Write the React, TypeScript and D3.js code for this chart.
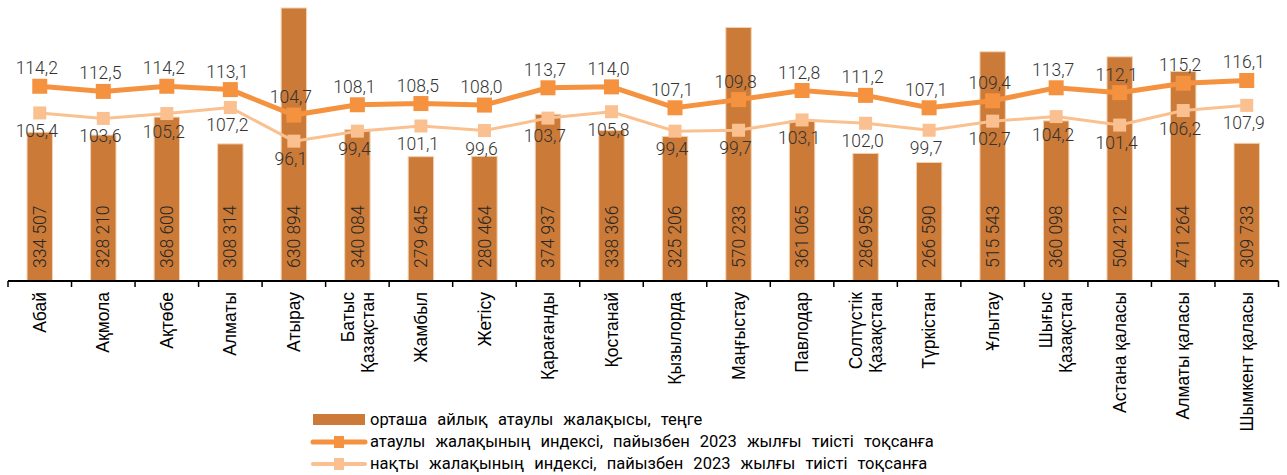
import * as d3 from 'd3';

const regions = [
  ['Абай'], ['Ақмола'], ['Ақтөбе'], ['Алматы'], ['Атырау'], ['Батыс', 'Қазақстан'],
  ['Жамбыл'], ['Жетісу'], ['Қарағанды'], ['Қостанай'], ['Қызылорда'], ['Маңғыстау'],
  ['Павлодар'], ['Солтүстік', 'Қазақстан'], ['Түркістан'], ['Ұлытау'], ['Шығыс', 'Қазақстан'],
  ['Астана қаласы'], ['Алматы қаласы'], ['Шымкент қаласы'],
];
const wages = [
  334507, 328210, 368600, 308314, 630894, 340084, 279645, 280464, 374937, 338366,
  325206, 570233, 361065, 286956, 266590, 515543, 360098, 504212, 471264, 309733,
];
const nominalIdx = [
  114.2, 112.5, 114.2, 113.1, 104.7, 108.1, 108.5, 108.0, 113.7, 114.0,
  107.1, 109.8, 112.8, 111.2, 107.1, 109.4, 113.7, 112.1, 115.2, 116.1,
];
const realIdx = [
  105.4, 103.6, 105.2, 107.2, 96.1, 99.4, 101.1, 99.6, 103.7, 105.8,
  99.4, 99.7, 103.1, 102.0, 99.7, 102.7, 104.2, 101.4, 106.2, 107.9,
];
const legendLabels = [
  'орташа айлық атаулы жалақысы, теңге',
  'атаулы жалақының индексі, пайызбен 2023 жылғы тиісті тоқсанға',
  'нақты жалақының индексі, пайызбен 2023 жылғы тиісті тоқсанға',
];

const W = 1287;
const H = 475;
const barColor = '#cb7a37';
const nomColor = '#f5923f';
const realColor = '#fac08f';
const txt = '#333333';
const numFont = 'Roboto, sans-serif';
const catFont = '"Liberation Sans", Arial, sans-serif';

const fmtWage = (v: number) => d3.format(',')(v).replace(/,/g, ' ');
const fmtIdx = (v: number) => v.toFixed(1).replace('.', ',');

export default function App() {
  const left = 8;
  const right = 1278.5;
  const axisY = 281;
  const top = 8;

  const names = regions.map((r) => r.join(' '));
  const x = d3.scaleBand<string>().domain(names).range([left, right]).paddingInner(0.6).paddingOuter(0.3);
  const band = d3.scaleBand<string>().domain(names).range([left, right]);
  const yBar = d3.scaleLinear().domain([0, 614000]).range([axisY, top]).clamp(true);
  const yIdx = d3.scaleLinear().domain([50, 140]).range([axisY, top]);
  const cx = (i: number) => (band(names[i]) ?? 0) + band.bandwidth() / 2;

  const nomLine = d3.line<number>().x((_, i) => cx(i)).y((d) => yIdx(d));
  const realLine = d3.line<number>().x((_, i) => cx(i)).y((d) => yIdx(d));

  const ticks = d3.range(names.length + 1).map((i) => left + i * band.bandwidth());

  return (
    <div style={{ position: 'fixed', left: 0, top: 0 }}>
      <svg width={W} height={H} viewBox={`0 0 ${W} ${H}`} style={{ display: 'block', background: '#fff' }}>
        {/* bars */}
        {wages.map((v, i) => (
          <rect
            key={'b' + i}
            x={x(names[i])}
            y={yBar(v)}
            width={x.bandwidth()}
            height={axisY - yBar(v)}
            fill={barColor}
            stroke="#f3d2b2"
            strokeWidth={1}
          />
        ))}
        {wages.map((v, i) => (
          <text
            key={'bl' + i}
            transform={`translate(${cx(i)},${axisY - 13}) rotate(-90)`}
            dy="0.35em"
            fontFamily={numFont}
            fontWeight={300}
            fontSize={17.5}
            fill="#262626"
          >
            {fmtWage(v)}
          </text>
        ))}

        {/* axis */}
        <line x1={left} x2={right} y1={axisY} y2={axisY} stroke="#000" strokeWidth={2} />
        {ticks.map((t, i) => (
          <line key={'t' + i} x1={t} x2={t} y1={axisY} y2={axisY + 6} stroke="#000" strokeWidth={1.5} />
        ))}
        {regions.map((r, i) =>
          r.map((ln, j) => (
            <text
              key={'c' + i + j}
              transform={`translate(${cx(i) + (j - (r.length - 1) / 2) * 20},${axisY + 11}) rotate(-90)`}
              textAnchor="end"
              dy="0.35em"
              fontFamily={catFont}
              fontSize={17.5}
              fill="#000"
            >
              {ln}
            </text>
          ))
        )}

        {/* lines */}
        <path d={realLine(realIdx) ?? ''} fill="none" stroke={realColor} strokeWidth={3} />
        {realIdx.map((v, i) => (
          <rect key={'rm' + i} x={cx(i) - 6.5} y={yIdx(v) - 6.5} width={13} height={13} fill={realColor} />
        ))}
        <path d={nomLine(nominalIdx) ?? ''} fill="none" stroke={nomColor} strokeWidth={5} />
        {nominalIdx.map((v, i) => (
          <rect key={'nm' + i} x={cx(i) - 7.5} y={yIdx(v) - 7.5} width={15} height={15} fill={nomColor} />
        ))}
        {nominalIdx.map((v, i) => (
          <text
            key={'nl' + i}
            x={cx(i) - 3}
            y={yIdx(v) - 12}
            textAnchor="middle"
            fontFamily={numFont}
            fontWeight={300}
            fontSize={17.5}
            fill={txt}
          >
            {fmtIdx(v)}
          </text>
        ))}
        {realIdx.map((v, i) => (
          <text
            key={'rl' + i}
            x={cx(i) - 3}
            y={yIdx(v) + 24}
            textAnchor="middle"
            fontFamily={numFont}
            fontWeight={300}
            fontSize={17.5}
            fill={txt}
          >
            {fmtIdx(v)}
          </text>
        ))}

        {/* legend */}
        <g fontFamily={numFont} fontSize={16.5} fill="#000">
          <rect x={313} y={414} width={52} height={11} fill={barColor} />
          <text x={370} y={425} wordSpacing={6}>{legendLabels[0]}</text>
          <line x1={313} x2={365} y1={442} y2={442} stroke={nomColor} strokeWidth={5} strokeLinecap="round" />
          <rect x={334} y={436} width={10} height={12} fill={nomColor} />
          <text x={370} y={447} wordSpacing={6}>{legendLabels[1]}</text>
          <line x1={313} x2={365} y1={464} y2={464} stroke={realColor} strokeWidth={4} strokeLinecap="round" />
          <rect x={334} y={458} width={10} height={12} fill={realColor} />
          <text x={370} y={469} wordSpacing={6}>{legendLabels[2]}</text>
        </g>
      </svg>
    </div>
  );
}
